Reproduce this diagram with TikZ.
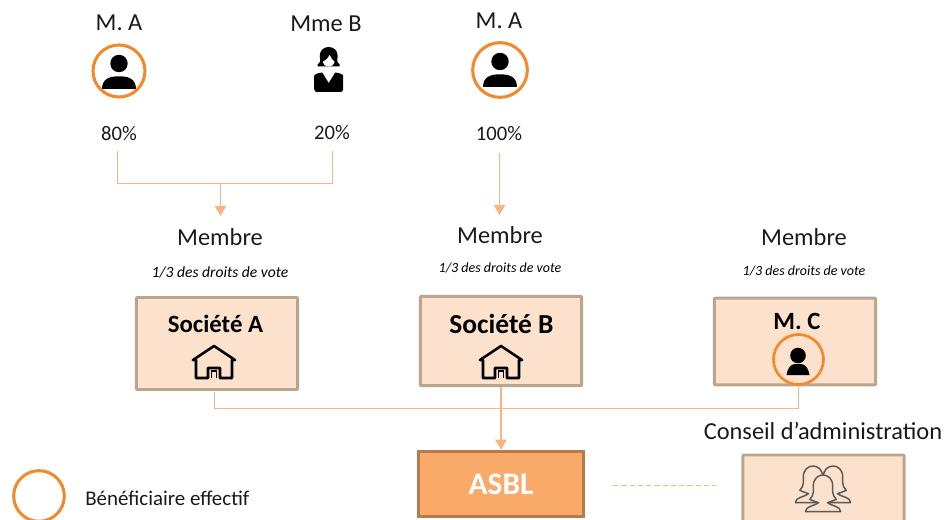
\documentclass[tikz,border=0pt]{standalone}
\usepackage{fontspec}
\setmainfont{Carlito}
\usetikzlibrary{arrows.meta}
\definecolor{boxfill}{HTML}{FCE1CD}
\definecolor{boxline}{HTML}{BBA58F}
\definecolor{asblfill}{HTML}{F9A968}
\definecolor{asblline}{HTML}{B67B4C}
\definecolor{link}{HTML}{F8B483}
\definecolor{ring}{HTML}{F08A2C}
\definecolor{inktext}{HTML}{1A1A1A}
\tikzset{
  px/.style={x=0.75pt,y=-0.75pt},
  lbl/.style={font=\fontsize{18.3}{22}\selectfont,text=inktext,inner sep=0pt},
  pct/.style={font=\fontsize{15.5}{18}\selectfont,text=inktext,inner sep=0pt},
  votes/.style={font=\fontsize{11.7}{14}\selectfont\itshape,text=black,inner sep=0pt},
  votessmall/.style={font=\fontsize{10.5}{13}\selectfont\itshape,text=black,inner sep=0pt},
  boxtitle/.style={font=\fontsize{18.6}{22}\selectfont\bfseries,text=black,inner sep=0pt},
  membox/.style={draw=boxline,fill=boxfill,line width=2.2pt,rounded corners=0.6pt,minimum width=121pt,inner sep=0pt,line join=round},
  ringed/.style={draw=ring,line width=2.3pt,circle,inner sep=0pt,fill=none},
  wire/.style={draw=link,line width=0.75pt},
  arrowwire/.style={wire,line width=0.95pt,-{Triangle[length=7.5pt,width=8.5pt,fill=link]}},
  pics/person/.style={code={
    \fill[black] (0,-8.5) circle (8.7);
    \fill[black] (-17,17) .. controls (-17,7) and (-9,4.5) .. (-4,4.5) -- (4,4.5) .. controls (9,4.5) and (17,7) .. (17,17) -- cycle;
  }},
  pics/smallperson/.style={code={
    \fill[black] (0,-8.5) circle (7.8);
    \fill[black] (-11.5,11) .. controls (-10.5,4) and (-7,0) .. (-3,0) -- (3,0) .. controls (7,0) and (10.5,4) .. (11.5,11) -- cycle;
  }},
  pics/woman/.style={code={
    \fill[black] (-14.5,6) .. controls (-14.5,4) and (-10,3) .. (-6.5,2.5) -- (0,13) -- (6.5,2.5) .. controls (10,3) and (14.5,4) .. (14.5,6) -- (14.5,19) .. controls (14.5,21) and (13,22) .. (12,22) -- (-12,22) .. controls (-13,22) and (-14.5,21) .. (-14.5,19) -- cycle;
    \fill[black] (-11,-5.5) .. controls (-7,-8) and (-9,-12) .. (-9,-14) .. controls (-9,-26) and (9,-26) .. (9,-14) .. controls (9,-12) and (7,-8) .. (11,-5.5) -- (11,-3.5) -- (-11,-3.5) -- cycle;
    \fill[white] (-6,-8) .. controls (-3,-10) and (0,-12) .. (1,-15) .. controls (2,-12) and (4,-10) .. (6,-8) .. controls (5.5,-5) and (3,-3.5) .. (0,-3.5) .. controls (-3,-3.5) and (-5.5,-5) .. (-6,-8) -- cycle;
  }},
  pics/house/.style={code={
    \draw[black,line width=1.9pt,line join=round,line cap=round]
      (-21,-2) -- (0,-16) -- (21,-2) (-21,-2) -- (-18,-2) -- (-18,16) -- (-6,16) -- (-6,6) -- (6,6) -- (6,16) -- (18,16) -- (18,-2) -- (21,-2);
    \draw[black,line width=0.9pt] (-2.5,16) -- (-2.5,9) -- (2.5,9) -- (2.5,16);
  }},
  pics/womenhead/.style={code={
    \draw[fill=boxfill,draw=black!65,line width=1.1pt,line join=round,xscale=0.88,yscale=1.12]
      (-20,14) .. controls (-20,9) and (-10,9) .. (-5,6) .. controls (-9,5) and (-12,4) .. (-15,3) .. controls (-10,-1) and (-11,-5) .. (-11,-9) .. controls (-11,-22) and (11,-22) .. (11,-9) .. controls (11,-5) and (10,-1) .. (15,3) .. controls (12,4) and (9,5) .. (5,6) .. controls (10,9) and (20,9) .. (20,14) -- (-20,14) -- cycle;
  }}
}
\begin{document}
\begin{tikzpicture}[px]
\useasboundingbox (0,0) rectangle (945,520);
\clip (0,0) rectangle (945,520);
% top labels
\node[lbl] (ma1) at (119,23) {M. A};
\node[lbl] (mb) at (326,24) {Mme B};
\node[lbl] (ma2) at (499,21) {M. A};
% icons
\pic at (119,72) {person};
\node[ringed,minimum size=39pt] (ring1) at (119,71) {};
\pic at (328.7,70) {woman};
\pic at (500,70) {person};
\node[ringed,minimum size=41pt] (ring2) at (500,70) {};
% percentages
\node[pct] (p80) at (119,134) {80\%};
\node[pct] (p20) at (332,133) {20\%};
\node[pct] (p100) at (499,134) {100\%};
% member labels
\node[lbl] (m1) at (220,237) {Membre};
\node[lbl] (m2) at (500,235) {Membre};
\node[lbl] (m3) at (804,237) {Membre};
\node[votes] (v1) at (220,272) {1/3 des droits de vote};
\node[votessmall] (v2) at (500,268) {1/3 des droits de vote};
\node[votessmall] (v3) at (804,271) {1/3 des droits de vote};
% boxes
\node[membox,minimum height=69pt] (sa) at (217,343.5) {};
\node[membox,minimum height=67pt] (sb) at (501,341) {};
\node[membox,minimum height=65pt] (mc) at (795,341.5) {};
\node[boxtitle] (tsa) at (215.5,324) {Société A};
\node[boxtitle,font=\fontsize{20.6}{24}\selectfont\bfseries] (tsb) at (501.5,324) {Société B};
\node[boxtitle] (tmc) at (797,321) {M. C};
\pic at (214,362) {house};
\pic at (501,362) {house};
\pic at (798,364) {smallperson};
\node[ringed,minimum size=37.5pt,line width=2pt] (ring3) at (798.5,359.5) {};
% ASBL and board
\node[draw=asblline,fill=asblfill,line width=2.4pt,minimum width=124pt,minimum height=49pt,inner sep=0pt] (asbl) at (501,484) {};
\node[font=\fontsize{23.5}{28}\selectfont\bfseries,text=white,inner sep=0pt] (tasbl) at (501,484) {ASBL};
\node[membox,minimum height=60pt] (ca) at (823.5,495) {};
\node[lbl] (tca) at (823,431) {Conseil d’administration};
\pic at (813,487) {womenhead};
\pic at (833,487) {womenhead};
\pic at (823,496) {womenhead};
% legend
\node[ringed,minimum size=38pt] (leg) at (39,496) {};
\node[font=\fontsize{15.7}{18}\selectfont,text=inktext,inner sep=0pt,anchor=west] (tleg) at (85,498) {Bénéficiaire effectif};
% connectors
\coordinate (s80) at (117.5,151);
\coordinate (c80) at (117.5,183.5);
\coordinate (s20) at (332.5,151);
\coordinate (c20) at (332.5,183.5);
\coordinate (j1) at (220.5,183.5);
\coordinate (e1) at (220.5,216);
\coordinate (s100) at (499.5,153);
\coordinate (e2) at (499.5,215);
\coordinate (sa1) at (214.5,392);
\coordinate (ca1) at (214.5,408.5);
\coordinate (mc1) at (798.5,387);
\coordinate (cc1) at (798.5,408.5);
\coordinate (d1) at (613,485);
\coordinate (d2) at (716,485);
\draw[wire] (s80) -- (c80) -- (c20) -- (s20);
\draw[arrowwire] (j1) -- (e1);
\draw[arrowwire] (s100) -- (e2);
\draw[wire] (sa1) -- (ca1) -- (cc1) -- (mc1);
\draw[arrowwire] (sb.south) -- (asbl.north);
\draw[wire,dash pattern=on 4pt off 2.2pt] (d1) -- (d2);
\end{tikzpicture}
\end{document}
